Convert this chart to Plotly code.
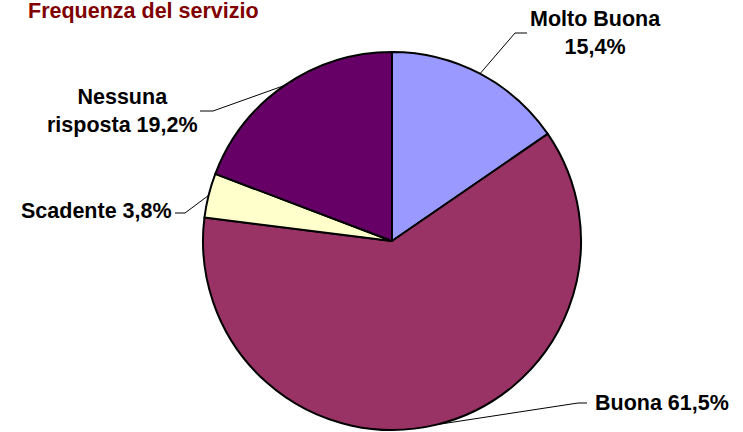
import math
import plotly.graph_objects as go

# ---- data ----
categories = ["Molto Buona", "Buona", "Scadente", "Nessuna risposta"]
values = [15.4, 61.5, 3.8, 19.2]
colors = ["#9999FF", "#993366", "#FFFFCC", "#660066"]
label_templates = ["Molto Buona<br>{p}", "Buona {p}", "Scadente {p}", "Nessuna<br>risposta {p}"]
title_text = "Frequenza del servizio"

# ---- layout geometry (pixels) ----
W, H = 743, 432
CX, CY, R = 392, 241, 189
label_pos = [(595, 33, "center"), (593, 403, "left"), (174, 211, "right"), (122, 111, "center")]
elbows = [(515, 33), (578, 403), (185, 213), (213, 111)]
line_ends = [(527, 33), (587, 403), (175, 213), (200, 111)]

FONT = "Arial, 'Liberation Sans', sans-serif"

fig = go.Figure()

fig.add_trace(go.Pie(
    labels=categories,
    values=values,
    sort=False,
    direction="clockwise",
    rotation=0,
    marker=dict(colors=colors, line=dict(color="black", width=2)),
    textinfo="none",
    hoverinfo="label+percent",
    showlegend=False,
    domain=dict(x=[(CX - R) / W, (CX + R) / W], y=[1 - (CY + R) / H, 1 - (CY - R) / H]),
))

total = sum(values)
cum = 0.0
annotations = []
for i, v in enumerate(values):
    mid = 2 * math.pi * (cum + v / 2) / total
    cum += v
    ex = CX + R * math.sin(mid)
    ey = CY - R * math.cos(mid)
    fig.add_trace(go.Scatter(
        x=[ex, elbows[i][0], line_ends[i][0]],
        y=[ey, elbows[i][1], line_ends[i][1]],
        mode="lines",
        line=dict(color="black", width=1),
        hoverinfo="skip",
        showlegend=False,
    ))
    pct = f"{v:.1f}".replace(".", ",") + "%"
    lx, ly, anc = label_pos[i]
    annotations.append(dict(
        x=lx, y=ly, xref="x", yref="y",
        text="<b>" + label_templates[i].format(p=pct) + "</b>",
        showarrow=False, xanchor=anc, yanchor="middle", align="center",
        font=dict(family=FONT, size=21.5, color="black"),
    ))

annotations.append(dict(
    x=26, y=11, xref="x", yref="y",
    text="<b>" + title_text + "</b>",
    showarrow=False, xanchor="left", yanchor="middle",
    font=dict(family=FONT, size=21.5, color="#800000"),
))

fig.update_layout(
    width=W, height=H,
    margin=dict(l=0, r=0, t=0, b=0),
    paper_bgcolor="white", plot_bgcolor="rgba(0,0,0,0)",
    xaxis=dict(range=[0, W], visible=False, fixedrange=True, domain=[0, 1]),
    yaxis=dict(range=[H, 0], visible=False, fixedrange=True, domain=[0, 1]),
    annotations=annotations,
)

fig.write_html(
    "out.html",
    config={"displayModeBar": False},
    post_script="document.body.style.margin='0';document.body.style.overflow='hidden';",
)
